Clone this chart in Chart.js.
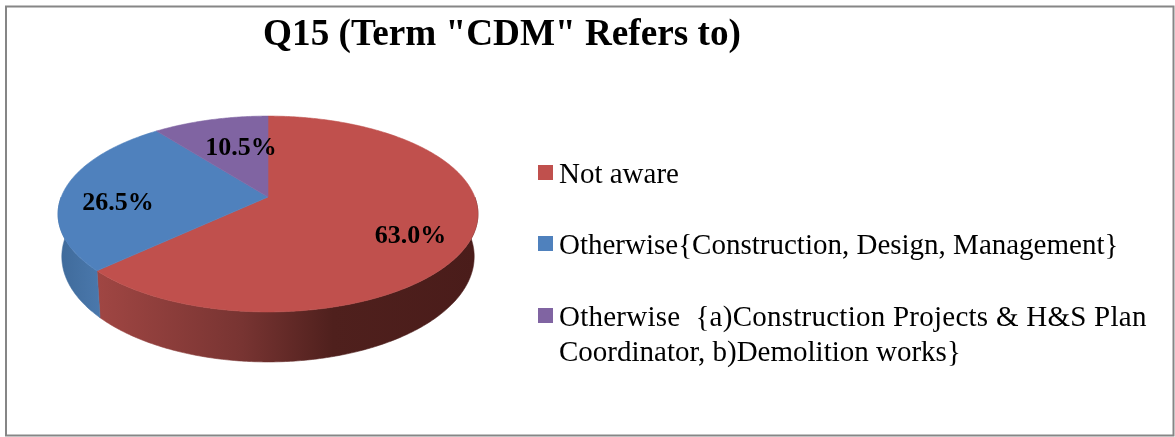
<!DOCTYPE html>
<html><head><meta charset="utf-8">
<style>html,body{margin:0;padding:0;background:#fff}#wrap{width:1175px;height:437px}canvas{display:block}</style>
<script src="https://cdn.jsdelivr.net/npm/chart.js@4/dist/chart.umd.js"></script>
</head><body><div id="wrap"><canvas id="c" width="1175" height="437"></canvas></div>
<script>
const categories = ['Not aware','Otherwise{Construction, Design, Management}',['Otherwise  {a)Construction Projects & H&S Plan','Coordinator, b)Demolition works}']];
const shares = [63.0,26.5,10.5];
const colors = ['#C0504D','#4F81BD','#8064A2'];
const titleText = 'Q15 (Term "CDM" Refers to)';
const SERIF = '"Liberation Serif","Times New Roman",serif';

// perspective tilt of the pie's disc: the library's arc geometry is projected through this
const K = 0.1735, XS = 2.177, DEPTH = 0.435, SHRINK = 0.018;
function top3d(a, x, y, r, f=1){ const th=a+Math.PI/2, u=Math.sin(th)*f, v=-Math.cos(th)*f, w=1-K*v;
  return {x:x+r*XS*u/w, y:y+r*v/w, w}; }
function bot3d(a, x, y, r){ const p=top3d(a,x,y,r);
  return {x:x+(p.x-x)*(1-SHRINK), y:p.y+r*DEPTH/p.w}; }
function trace(ctx,pts){ ctx.beginPath(); pts.forEach((p,i)=>i?ctx.lineTo(p.x,p.y):ctx.moveTo(p.x,p.y)); ctx.closePath(); }
function sweep(s,e){ const n=Math.max(2,Math.ceil((e-s)/0.01)),o=[]; for(let i=0;i<=n;i++)o.push(s+(e-s)*i/n); return o; }

Chart.ArcElement.prototype.draw = function(ctx){
  const {x,y,startAngle,endAngle,outerRadius:r}=this.getProps(['x','y','startAngle','endAngle','outerRadius']);
  const pts=[{x,y}].concat(sweep(startAngle,endAngle).map(a=>top3d(a,x,y,r)));
  ctx.save(); trace(ctx,pts); ctx.fillStyle=this.options.backgroundColor; ctx.fill();
  ctx.strokeStyle=this.options.backgroundColor; ctx.lineWidth=0.6; ctx.stroke(); ctx.restore();
};

const pie3d = {
  id:'pie3d',
  beforeDraw(chart){
    const {ctx,width,height}=chart;
    ctx.save(); ctx.fillStyle='#fff'; ctx.fillRect(0,0,width,height);
    ctx.strokeStyle='#868686'; ctx.lineWidth=2; ctx.strokeRect(6,6.5,width-7.5,height-8); ctx.restore();
  },
  afterLayout(chart){ chart.titleBlock.left=0; chart.titleBlock.right=1004; },
  beforeDatasetsDraw(chart){
    const {ctx}=chart, arcs=chart.getDatasetMeta(0).data;
    const frontS=0, frontE=Math.PI;   // front half of the rim, in library angles
    const shades=[[[0,'#A04643'],[0.38,'#783432'],[0.62,'#4F201D'],[1,'#4A1C1A']],[[0,'#3F6A9A'],[1,'#4A78AC']],[[0,'#5F4A7A'],[1,'#5F4A7A']]];
    arcs.forEach((el,i)=>{
      const s=Math.max(el.startAngle,frontS), e=Math.min(el.endAngle,frontE);
      if(e<=s) return;
      const as=sweep(s,e), t=as.map(a=>top3d(a,el.x,el.y,el.outerRadius)), b=as.map(a=>bot3d(a,el.x,el.y,el.outerRadius)).reverse();
      const xs=t.concat(b).map(p=>p.x), x0=Math.min(...xs), x1=Math.max(...xs);
      const g=ctx.createLinearGradient(x0,0,x1,0); shades[i].forEach(c=>g.addColorStop(c[0],c[1]));
      ctx.save(); trace(ctx,t.concat(b)); ctx.fillStyle=g; ctx.fill(); ctx.strokeStyle=g; ctx.lineWidth=0.6; ctx.stroke(); ctx.restore();
    });
  },
  afterDatasetsDraw(chart){
    const {ctx}=chart, arcs=chart.getDatasetMeta(0).data, ds=chart.data.datasets[0].data;
    const nudge=[[3,12],[-7,11],[15,8]];
    ctx.save(); ctx.font='bold 26px '+SERIF; ctx.fillStyle='#000'; ctx.textAlign='center'; ctx.textBaseline='middle';
    arcs.forEach((el,i)=>{ const p=top3d((el.startAngle+el.endAngle)/2,el.x,el.y,el.outerRadius,0.7);
      ctx.fillText(ds[i].toFixed(1)+'%',p.x+nudge[i][0],p.y+nudge[i][1]); });
    ctx.restore();
  },
  afterDraw(chart){
    const {ctx}=chart, bgs=chart.data.datasets[0].backgroundColor;
    const rowTop=[165,236,308], lineGap=35, firstLineTracking=['0px','0px','0.25px'];
    ctx.save(); ctx.font='29px '+SERIF; ctx.textBaseline='alphabetic'; ctx.textAlign='left';
    chart.data.labels.forEach((lab,i)=>{
      ctx.fillStyle=bgs[i]; ctx.fillRect(538,rowTop[i],15,15);
      ctx.fillStyle='#000';
      [].concat(lab).forEach((ln,j)=>{ ctx.letterSpacing=j?'0px':firstLineTracking[i]; ctx.fillText(ln,559,rowTop[i]+18+j*lineGap); });
    });
    ctx.restore();
  }
};

new Chart(document.getElementById('c'),{
  type:'pie',
  data:{labels:categories,datasets:[{data:shares,backgroundColor:colors,borderWidth:0}]},
  options:{
    responsive:false,animation:false,rotation:0,
    layout:{padding:{left:60,right:699,top:0,bottom:145}},
    plugins:{
      legend:{display:false},tooltip:{enabled:false},
      title:{display:true,text:titleText,color:'#000',font:{family:SERIF,size:37.2,weight:'bold',lineHeight:1.2},padding:{top:13,bottom:44.4}}
    }
  },
  plugins:[pie3d]
});
</script></body></html>
